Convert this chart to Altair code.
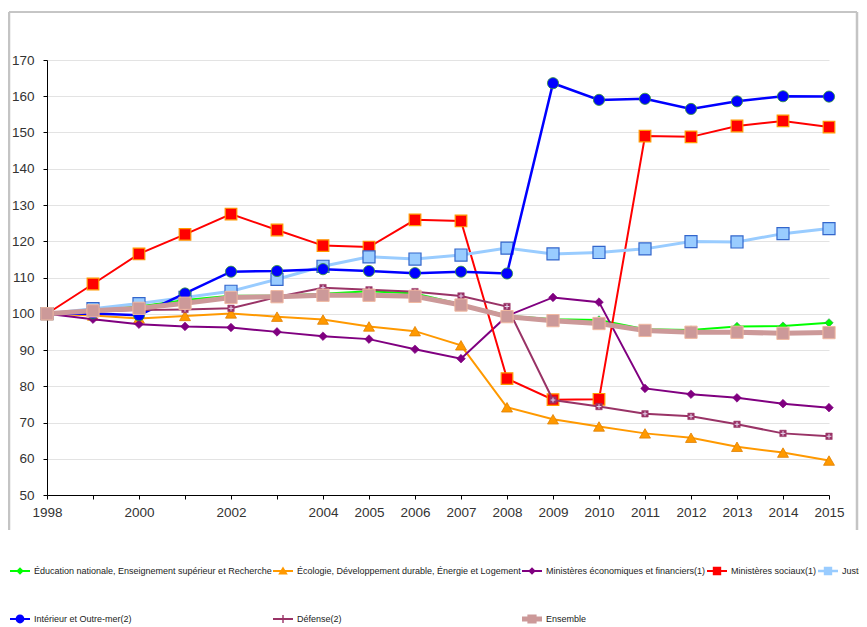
import altair as alt
import pandas as pd

years = list(range(1998, 2016))

series_names = [
    "Éducation nationale, Enseignement supérieur et Recherche",
    "Écologie, Développement durable, Énergie et Logement",
    "Ministères économiques et financiers(1)",
    "Ministères sociaux(1)",
    "Justice",
    "Intérieur et Outre-mer(2)",
    "Défense(2)",
    "Ensemble",
]

education = [100, 101.0, 102.0, 103.8, 105.0, 105.0, 105.5, 106.2, 105.6, 102.6, 99.5, 98.5, 98.3, 95.7, 95.5, 96.5, 96.6, 97.5]
ecologie = [100, 99.5, 98.7, 99.4, 100.1, 99.2, 98.4, 96.5, 95.2, 91.3, 74.2, 70.9, 68.9, 67.0, 65.8, 63.3, 61.7, 59.5]
economie = [100, 98.5, 97.1, 96.5, 96.2, 95.0, 93.8, 93.0, 90.2, 87.6, 99.4, 104.5, 103.2, 79.4, 77.8, 76.8, 75.2, 74.1]
sociaux = [100, 108.2, 116.5, 121.9, 127.5, 123.1, 118.8, 118.4, 125.9, 125.6, 82.1, 76.3, 76.4, 149.0, 148.8, 151.8, 153.2, 151.5]
justice = [100, 101.4, 102.8, 104.5, 106.2, 109.5, 113.1, 115.7, 115.1, 116.2, 118.1, 116.5, 116.9, 117.9, 119.9, 119.8, 122.1, 123.5]
interieur = [100, 100.1, 99.6, 105.6, 111.6, 111.8, 112.3, 111.8, 111.2, 111.6, 111.1, 163.6, 159.0, 159.3, 156.5, 158.6, 160.0, 159.9]
defense = [100, 100.6, 101.0, 101.2, 101.5, 104.6, 107.2, 106.6, 106.1, 104.9, 102.0, 76.2, 74.4, 72.4, 71.7, 69.5, 67.0, 66.2]
ensemble = [100, 100.8, 101.5, 102.9, 104.5, 104.7, 105.1, 105.1, 104.8, 102.4, 99.2, 98.1, 97.3, 95.4, 94.9, 94.9, 94.6, 94.8]

all_values = [education, ecologie, economie, sociaux, justice, interieur, defense, ensemble]

colors = ["#00FF00", "#FF9900", "#800080", "#FF0000", "#99CCFF", "#0000FF", "#993366", "#CC9999"]

y_ticks = list(range(50, 171, 10))

rows = []
for name, vals in zip(series_names, all_values):
    for yr, v in zip(years, vals):
        rows.append({"annee": yr, "indice": v, "serie": name})
df = pd.DataFrame(rows)

styles = [
    dict(lw=2, shape="diamond", size=70, stroke="#2E8B57", sw=0.6),
    dict(lw=2, shape="triangle-up", size=120, stroke="#E08000", sw=0.8),
    dict(lw=2, shape="diamond", size=75, stroke="#800080", sw=0.6),
    dict(lw=2, shape="square", size=135, stroke="#FF9900", sw=1.2),
    dict(lw=3, shape="square", size=145, stroke="#3366CC", sw=1.2),
    dict(lw=2.5, shape="circle", size=125, stroke="#339933", sw=0.8),
    dict(lw=2, shape="square", size=42, stroke="#993366", sw=0.5),
    dict(lw=5, shape="square", size=150, stroke="#F0B8A0", sw=1),
]

line_thin = "M-1,-0.1H1V0.1H-1Z"
line_thick = "M-1,-0.24H1V0.24H-1Z"
legend_paths = [
    line_thin + "M0,-0.38L0.38,0L0,0.38L-0.38,0Z",
    line_thin + "M0,-0.44L0.48,0.34L-0.48,0.34Z",
    line_thin + "M0,-0.38L0.38,0L0,0.38L-0.38,0Z",
    line_thin + "M-0.42,-0.42H0.42V0.42H-0.42Z",
    "M-1,-0.13H1V0.13H-1Z" + "M-0.42,-0.42H0.42V0.42H-0.42Z",
    line_thin + "M-0.44,0A0.44,0.44 0 1,1 0.44,0A0.44,0.44 0 1,1 -0.44,0Z",
    line_thin + "M-0.07,-0.4H0.07V0.4H-0.07Z",
    line_thick + "M-0.46,-0.46H0.46V0.46H-0.46Z",
]

x_enc = alt.X(
    "annee:Q",
    scale=alt.Scale(domain=[1998, 2015], nice=False, zero=False),
    axis=alt.Axis(
        values=years,
        format="d",
        labelExpr="indexof([1999, 2001, 2003], datum.value) >= 0 ? '' : datum.label",
        title=None,
        grid=False,
        domainColor="#000000",
        tickColor="#000000",
        tickSize=4,
        labelPadding=6,
        labelOverlap=False,
        labelFlush=False,
        labelFont="Liberation Sans",
        labelFontSize=13.5,
        labelColor="#333333",
    ),
)
y_enc = alt.Y(
    "indice:Q",
    scale=alt.Scale(domain=[50, 170], nice=False, zero=False),
    axis=alt.Axis(
        values=y_ticks,
        title=None,
        grid=True,
        gridColor="#E3E3E3",
        gridWidth=1,
        domainColor="#000000",
        tickColor="#000000",
        tickSize=4,
        labelPadding=9,
        labelFont="Liberation Sans",
        labelFontSize=13.5,
        labelColor="#333333",
    ),
)

base = alt.Chart(df)
frame_data = alt.Chart(pd.DataFrame({"k": [0]}))

layers = []
layers.append(frame_data.mark_rule(color="#8C8C8C", strokeWidth=1).encode(
    x=alt.value(-38), x2=alt.value(810), y=alt.value(-48)))
layers.append(frame_data.mark_rule(color="#C4C4C4", strokeWidth=2.5).encode(
    x=alt.value(-38), y=alt.value(-48), y2=alt.value(470)))
layers.append(frame_data.mark_rule(color="#C4C4C4", strokeWidth=2.5).encode(
    x=alt.value(810), y=alt.value(-48), y2=alt.value(470)))

for i, name in enumerate(series_names):
    st = styles[i]
    sub = base.transform_filter(alt.datum.serie == name)
    layers.append(sub.mark_line(color=colors[i], strokeWidth=st["lw"]).encode(x=x_enc, y=y_enc))
    layers.append(sub.mark_point(
        shape=st["shape"], filled=True, size=st["size"], fill=colors[i],
        stroke=st["stroke"], strokeWidth=st["sw"], opacity=1,
    ).encode(x=x_enc, y=y_enc))
    if name.startswith("Défense"):
        layers.append(sub.mark_point(
            shape="M-1,0H1M0,-1V1", filled=False, stroke="#E6D8F0",
            strokeWidth=1, size=22, opacity=1,
        ).encode(x=x_enc, y=y_enc))

legend = alt.Legend(
    title=None,
    orient="none",
    legendX=-37,
    legendY=501,
    direction="horizontal",
    columns=5,
    gridAlign="each",
    columnPadding=1,
    rowPadding=33,
    symbolSize=400,
    symbolStrokeWidth=0,
    symbolOpacity=1,
    labelFont="Liberation Sans",
    labelFontSize=9,
    labelColor="#222222",
    labelLimit=400,
    labelOffset=4,
    padding=0,
    offset=0,
)

layers.append(base.mark_point(filled=True, opacity=0).encode(
    x=x_enc, y=y_enc,
    color=alt.Color("serie:N", scale=alt.Scale(domain=series_names, range=colors), legend=legend),
    shape=alt.Shape("serie:N", scale=alt.Scale(domain=series_names, range=legend_paths), legend=legend),
))

chart = alt.layer(*layers).properties(
    width=782,
    height=435,
    autosize=alt.AutoSizeParams(type="none"),
    padding={"left": 39, "top": 52, "right": 30, "bottom": 132},
    background="#FFFFFF",
).configure_view(stroke=None)

chart.save("out.html", embed_options={"renderer": "svg", "actions": False})
